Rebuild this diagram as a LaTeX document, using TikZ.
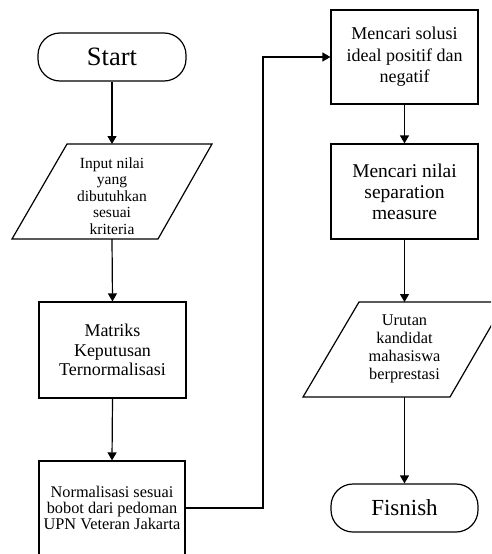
\documentclass[tikz,border=0pt]{standalone}
\usepackage{fontspec}
\setmainfont{Liberation Serif}
\usetikzlibrary{arrows.meta}

\tikzset{
  flow/.style={draw=black, -{Triangle[length=8pt,width=9pt]}},
  procbox/.style={draw, rectangle, inner sep=0pt, align=center,
    minimum width=147pt},
  terminal/.style={draw, rectangle, rounded corners=22pt, inner sep=0pt,
    minimum width=148pt, minimum height=48pt},
  label/.style={inner sep=0pt, align=center},
}

\begin{document}
\begin{tikzpicture}[x=1pt, y=-1pt, line width=1.2pt]
  \useasboundingbox (0,0) rectangle (491,554);
  \clip (0,0) rectangle (491,554);

  % left column
  \node[terminal, font=\fontsize{26.5}{28}\selectfont] (start) at (112,57) {Start};

  \draw (67,144) -- (212,144) -- (158,239) -- (12,239) -- cycle;
  \coordinate (inTop) at (112,144);
  \coordinate (inBot) at (112,239);
  \node[label, font=\fontsize{15.5}{16.6}\selectfont] (input) at (112,196)
    {Input nilai\\yang\\dibutuhkan\\sesuai\\kriteria};

  \node[procbox, minimum height=96pt, font=\fontsize{18}{19.5}\selectfont]
    (matriks) at (112.5,350) {Matriks\\Keputusan\\Ternormalisasi};

  \node[procbox, minimum width=146pt, minimum height=98pt, font=\fontsize{16.3}{17.5}\selectfont]
    (norm) at (112,510) {\raisebox{2pt}{\begin{tabular}{@{}c@{}}Normalisasi sesuai\\[-1.5pt]bobot dari pedoman\\[-1.5pt]UPN Veteran Jakarta\end{tabular}}};

  % right column
  \node[procbox, minimum height=94pt, font=\fontsize{18}{21.5}\selectfont]
    (solusi) at (404.5,57) {Mencari solusi\\ideal positif dan\\negatif};

  \node[procbox, minimum height=95pt, font=\fontsize{19.5}{21}\selectfont]
    (separasi) at (404.5,191.5) {Mencari nilai\\separation\\measure};

  \draw (359,302) -- (505,302) -- (450,397) -- (303,397) -- cycle;
  \coordinate (urTop) at (404.5,302);
  \coordinate (urBot) at (404.5,397);
  \node[label, font=\fontsize{16.3}{18}\selectfont] (urutan) at (404.5,349)
    {Urutan\\kandidat\\mahasiswa\\berprestasi};

  \node[terminal, minimum width=147pt, font=\fontsize{23}{26}\selectfont]
    (finish) at (404.5,508) {Fisnish};

  % connectors
  \draw[flow] (norm.east |- 0,508) -- (263,508) |- (solusi.west);
  \draw[flow] (start.south) -- (inTop);
  \draw[flow] (inBot) -- (matriks.north);
  \draw[flow] (matriks.south) -- (norm.north);
  \draw[flow] (solusi.south) -- (separasi.north);
  \draw[flow] (separasi.south) -- (urTop);
  \draw[flow] (urBot) -- (finish.north);
\end{tikzpicture}
\end{document}
